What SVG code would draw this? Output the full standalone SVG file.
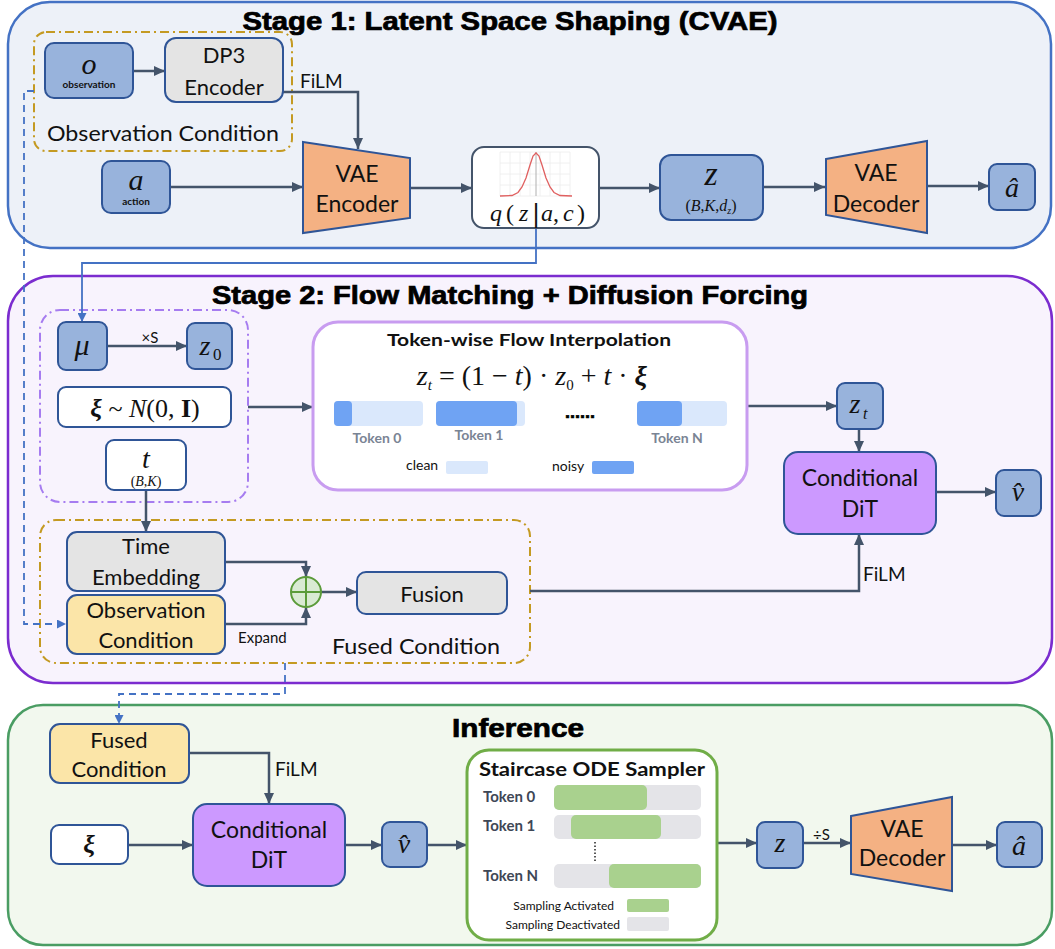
<svg xmlns="http://www.w3.org/2000/svg" width="1055" height="949" viewBox="0 0 1055 949">
<defs>
<marker id="ah" markerUnits="userSpaceOnUse" markerWidth="11" markerHeight="10" refX="11" refY="5" orient="auto"><path d="M0,0 L11,5 L0,10 z" fill="#44546a"/></marker>
<marker id="ahb" markerUnits="userSpaceOnUse" markerWidth="9" markerHeight="9" refX="9" refY="4.5" orient="auto"><path d="M0,0 L9,4.5 L0,9 z" fill="#4472c4"/></marker>
<style>
.stage{stroke-width:2.5}
.conn{fill:none;stroke:#44546a;stroke-width:2.5;marker-end:url(#ah)}
.connb{fill:none;stroke:#4472c4;stroke-width:1.8;marker-end:url(#ahb)}
.dash{stroke-dasharray:7,5}
.blue{fill:#98b3dc;stroke:#2f5597;stroke-width:2}
.gray{fill:#e4e4e4;stroke:#2f5597;stroke-width:2}
.white{fill:#ffffff;stroke:#2f5597;stroke-width:2}
.orange{fill:#f4b183;stroke:#2f5597;stroke-width:2}
.purple{fill:#cc99ff;stroke:#2f5597;stroke-width:2}
.yellow{fill:#fbe5a8;stroke:#2f5597;stroke-width:2}
.lbl{font-family:Lato,"Liberation Sans",sans-serif;fill:#111}
.ttl{font-family:"Liberation Sans",Arial,sans-serif;font-weight:bold;fill:#000;stroke:#000;stroke-width:0.7}
.math{font-family:"Liberation Serif","DejaVu Serif",serif;fill:#111}
.it{font-style:italic}
.mid{text-anchor:middle}
.tok{font-family:Lato,"Liberation Sans",sans-serif;font-weight:bold;fill:#7a8494;font-size:14px}
.tok2{font-family:Lato,"Liberation Sans",sans-serif;font-weight:bold;fill:#3e4756;font-size:15px}
</style>
</defs>

<g id="stage1">
<rect x="8" y="2" width="1043" height="246" rx="42" fill="#edf1f8" stroke="#4472c4" class="stage"/>
<text x="510" y="30" class="ttl mid" font-size="25" textLength="535" lengthAdjust="spacingAndGlyphs">Stage 1: Latent Space Shaping (CVAE)</text>
</g>
<g id="stage2">
<rect x="8" y="276" width="1044" height="407" rx="45" fill="#f8f3fd" stroke="#7b2ccf" class="stage"/>
<text x="510" y="304" class="ttl mid" font-size="25" textLength="596" lengthAdjust="spacingAndGlyphs">Stage 2: Flow Matching + Diffusion Forcing</text>
</g>
<g id="inference">
<rect x="8" y="705" width="1044" height="240" rx="35" fill="#f2f8ee" stroke="#4a9d63" class="stage"/>
<text x="518" y="737" class="ttl mid" font-size="25" textLength="132" lengthAdjust="spacingAndGlyphs">Inference</text>
</g>

<g id="obs-cond-group">
<rect x="34" y="32" width="258" height="119" rx="12" fill="none" stroke="#c49a22" stroke-width="2" stroke-dasharray="9,4,2,4"/>
<text x="47" y="141" class="lbl" font-size="22" textLength="232" lengthAdjust="spacingAndGlyphs">Observation Condition</text>
</g>
<g id="noise-group">
<rect x="40" y="310" width="208" height="192" rx="20" fill="none" stroke="#a67cf0" stroke-width="2" stroke-dasharray="9,4,2,4"/>
</g>
<g id="fused-group">
<rect x="40" y="520" width="490" height="143" rx="16" fill="none" stroke="#c49a22" stroke-width="2" stroke-dasharray="9,4,2,4"/>
<text x="332" y="654" class="lbl" font-size="22" textLength="168" lengthAdjust="spacingAndGlyphs">Fused Condition</text>
</g>

<g id="connectors">
<path class="conn" d="M133,71 H165"/>
<path class="conn" d="M283,92 H358 V149"/>
<text x="300" y="88" class="lbl" font-size="19">FiLM</text>
<path class="conn" d="M170,187 H303"/>
<path class="conn" d="M410,188 H472"/>
<path class="conn" d="M599,188 H660"/>
<path class="conn" d="M763,187 H825"/>
<path class="conn" d="M927,186 H989"/>
<path class="connb" d="M536,228 V263 H82 V322"/>
<path class="connb dash" d="M34,91 H24 V624 H66"/>
<path class="conn" d="M107,346 H187"/>
<text x="150" y="343" class="lbl mid" font-size="15">×S</text>
<path class="conn" d="M248,407 H313"/>
<path class="conn" d="M146,490 V532"/>
<path class="conn" d="M225,562 H306 V577"/>
<path class="conn" d="M225,624 H306 V607"/>
<text x="238" y="643" class="lbl" font-size="15">Expand</text>
<path class="conn" d="M321,592 H357"/>
<path class="conn" d="M530,591 H859 V534"/>
<text x="863" y="581" class="lbl" font-size="19">FiLM</text>
<path class="conn" d="M747,406 H837"/>
<path class="conn" d="M859,429 V452"/>
<path class="conn" d="M936,492 H996"/>
<path class="connb dash" d="M285,663 V694 H119 V724"/>
<path class="conn" d="M189,753 H269 V804"/>
<text x="275" y="776" class="lbl" font-size="19">FiLM</text>
<path class="conn" d="M128,845 H193"/>
<path class="conn" d="M345,845 H382"/>
<path class="conn" d="M427,845 H467"/>
<path class="conn" d="M717,843 H757"/>
<text x="813" y="840" class="lbl" font-size="15">÷S</text>
<path class="conn" d="M803,843 H851"/>
<path class="conn" d="M952,845 H997"/>
</g>

<g id="obs">
<rect x="45" y="43" width="88" height="55" rx="9" class="blue"/>
<text x="89" y="74" class="math it mid" font-size="30">o</text>
<text x="89" y="88" class="lbl mid" font-size="10" font-weight="bold">observation</text>
</g>
<g id="dp3">
<rect x="165" y="38" width="118" height="64" rx="11" class="gray"/>
<text x="224" y="63" class="lbl mid" font-size="22">DP3</text>
<text x="224" y="95" class="lbl mid" font-size="22">Encoder</text>
</g>
<g id="action">
<rect x="102" y="161" width="68" height="52" rx="9" class="blue"/>
<text x="136" y="190" class="math it mid" font-size="30">a</text>
<text x="136" y="205" class="lbl mid" font-size="10" font-weight="bold">action</text>
</g>
<g id="vae-enc">
<path d="M303,142 L410,158 L410,218 L303,233 z" class="orange"/>
<text x="357" y="182" class="lbl mid" font-size="23">VAE</text>
<text x="357" y="212" class="lbl mid" font-size="23">Encoder</text>
</g>
<g id="posterior">
<rect x="472" y="147" width="127" height="81" rx="12" fill="#fff" stroke="#44546a" stroke-width="2"/>
<g stroke="#ececec" stroke-width="0.8">
<path d="M500,152 V196 M510,152 V196 M520,152 V196 M530,152 V196 M540,152 V196 M550,152 V196 M560,152 V196 M570,152 V196"/>
<path d="M500,152 H570 M500,163 H570 M500,174 H570 M500,185 H570 M500,196 H570"/>
</g>
<path d="M536,152 V196" stroke="#b0b0b0" stroke-width="1"/>
<path d="M500,196 L512,195.5 L518,192.5 L522,187 L526,178 L530,165 L533,156 L536,153 L539,156 L542,165 L546,178 L550,187 L554,192.5 L560,195.5 L572,196" fill="none" stroke="#e06060" stroke-width="1.3"/>
<text y="221" class="math" font-size="24"><tspan x="490" class="it">q</tspan><tspan x="506">(</tspan><tspan x="519" class="it">z</tspan><tspan x="541" class="it">a</tspan><tspan x="553">,</tspan><tspan x="563" class="it">c</tspan><tspan x="577">)</tspan></text>
<text x="536" y="222" font-family="'DejaVu Sans',sans-serif" font-size="24" fill="#111" text-anchor="middle">|</text>
</g>
<g id="z-latent">
<rect x="660" y="155" width="103" height="65" rx="11" class="blue"/>
<text x="711" y="185" class="math it mid" font-size="34">z</text>
<text x="711" y="211" class="math mid" font-size="16">(<tspan class="it">B</tspan>,<tspan class="it">K</tspan>,<tspan class="it">d</tspan><tspan class="it" font-size="10" dy="3">z</tspan><tspan dy="-3">)</tspan></text>
</g>
<g id="vae-dec">
<path d="M826,159 L927,141 L927,233 L826,215 z" class="orange"/>
<text x="876" y="181" class="lbl mid" font-size="23">VAE</text>
<text x="876" y="212" class="lbl mid" font-size="23">Decoder</text>
</g>
<g id="a-hat">
<rect x="989" y="164" width="46" height="46" rx="8" class="blue"/>
<text x="1012" y="197" class="math it mid" font-size="28">â</text>
</g>

<g id="mu">
<rect x="58" y="322" width="49" height="48" rx="8" class="blue"/>
<text x="82" y="355" class="math it mid" font-size="30">μ</text>
</g>
<g id="z0">
<rect x="187" y="323" width="45" height="46" rx="8" class="blue"/>
<text x="205" y="355" class="math it mid" font-size="28">z</text>
<text x="213" y="360" class="math" font-size="17">0</text>
</g>
<g id="xi-noise">
<rect x="58" y="387" width="173" height="40" rx="8" class="white"/>
<text x="145" y="417" class="math mid" font-size="26"><tspan font-weight="bold" font-style="italic">ξ</tspan> ~ <tspan font-style="italic">N</tspan>(0, <tspan font-weight="bold">I</tspan>)</text>
</g>
<g id="t-step">
<rect x="106" y="440" width="80" height="50" rx="8" class="white"/>
<text x="146" y="468" class="math it mid" font-size="28">t</text>
<text x="146" y="486" class="math mid" font-size="14">(<tspan class="it">B</tspan>,<tspan class="it">K</tspan>)</text>
</g>
<g id="token-interp">
<rect x="313" y="322" width="434" height="168" rx="25" fill="#fff" stroke="#c89cf0" stroke-width="3"/>
<text x="529" y="346" class="lbl mid" font-size="17" font-weight="bold" textLength="284" lengthAdjust="spacingAndGlyphs">Token-wise Flow Interpolation</text>
<text x="532" y="385" class="math mid" font-size="28"><tspan class="it">z</tspan><tspan class="it" font-size="15" dy="5">t</tspan><tspan dy="-5"> = (1 − </tspan><tspan class="it">t</tspan>) · <tspan class="it">z</tspan><tspan font-size="15" dy="5">0</tspan><tspan dy="-5"> + </tspan><tspan class="it">t</tspan> · <tspan font-weight="bold" font-style="italic">ξ</tspan></text>
<rect x="334" y="401" width="89" height="25" rx="4" fill="#dae8fc"/>
<rect x="334" y="401" width="18" height="25" rx="4" fill="#6fa3f3"/>
<rect x="436" y="401" width="89" height="25" rx="4" fill="#dae8fc"/>
<rect x="436" y="401" width="81" height="25" rx="4" fill="#6fa3f3"/>
<rect x="637" y="401" width="90" height="25" rx="4" fill="#dae8fc"/>
<rect x="637" y="401" width="45" height="25" rx="4" fill="#6fa3f3"/>
<text x="580" y="418" class="ttl mid" font-size="18" stroke-width="0">......</text>
<text x="377" y="443" class="tok mid">Token 0</text>
<text x="479" y="440" class="tok mid">Token 1</text>
<text x="677" y="443" class="tok mid">Token N</text>
<text x="406" y="470" class="lbl" font-size="14">clean</text>
<rect x="446" y="461" width="42" height="13" rx="2" fill="#dae8fc"/>
<text x="552" y="471" class="lbl" font-size="14">noisy</text>
<rect x="592" y="461" width="42" height="13" rx="2" fill="#6fa3f3"/>
</g>
<g id="zt">
<rect x="837" y="383" width="46" height="46" rx="8" class="blue"/>
<text x="855" y="413" class="math it mid" font-size="28">z</text>
<text x="863" y="419" class="math it" font-size="16">t</text>
</g>
<g id="dit-train">
<rect x="784" y="452" width="152" height="82" rx="14" class="purple"/>
<text x="860" y="486" class="lbl mid" font-size="23">Conditional</text>
<text x="860" y="517" class="lbl mid" font-size="23">DiT</text>
</g>
<g id="v-hat-train">
<rect x="996" y="470" width="45" height="46" rx="8" class="blue"/>
<text x="1018" y="501" class="math it mid" font-size="28">v̂</text>
</g>
<g id="time-emb">
<rect x="67" y="532" width="158" height="59" rx="10" class="gray"/>
<text x="146" y="554" class="lbl mid" font-size="22">Time</text>
<text x="146" y="585" class="lbl mid" font-size="22">Embedding</text>
</g>
<g id="obs-cond">
<rect x="67" y="595" width="158" height="59" rx="10" class="yellow"/>
<text x="146" y="618" class="lbl mid" font-size="22">Observation</text>
<text x="146" y="648" class="lbl mid" font-size="22">Condition</text>
</g>
<g id="add">
<circle cx="306" cy="592" r="15" fill="#d9ead3" stroke="#5b9b3a" stroke-width="2"/>
<path d="M291,592 H321 M306,577 V607" stroke="#5b9b3a" stroke-width="2"/>
</g>
<g id="fusion">
<rect x="357" y="572" width="150" height="42" rx="9" class="gray"/>
<text x="432" y="602" class="lbl mid" font-size="22">Fusion</text>
</g>

<g id="fused-inf">
<rect x="50" y="724" width="139" height="59" rx="10" class="yellow"/>
<text x="119" y="748" class="lbl mid" font-size="22">Fused</text>
<text x="119" y="777" class="lbl mid" font-size="22">Condition</text>
</g>
<g id="xi-inf">
<rect x="51" y="825" width="77" height="39" rx="8" class="white" fill="#fafafa"/>
<text x="89" y="853" class="math mid" font-size="26" font-weight="bold" font-style="italic">ξ</text>
</g>
<g id="dit-inf">
<rect x="193" y="804" width="152" height="82" rx="14" class="purple"/>
<text x="269" y="838" class="lbl mid" font-size="23">Conditional</text>
<text x="269" y="868" class="lbl mid" font-size="23">DiT</text>
</g>
<g id="v-hat-inf">
<rect x="382" y="822" width="45" height="45" rx="8" class="blue"/>
<text x="404" y="853" class="math it mid" font-size="28">v̂</text>
</g>
<g id="staircase">
<rect x="467" y="750" width="250" height="190" rx="22" fill="#fff" stroke="#70ad47" stroke-width="3"/>
<text x="592" y="776" class="lbl mid" font-size="19" font-weight="bold" fill="#000" textLength="226" lengthAdjust="spacingAndGlyphs">Staircase ODE Sampler</text>
<text x="483" y="802" class="tok2">Token 0</text>
<rect x="554" y="785" width="147" height="25" rx="5" fill="#e4e4e8"/>
<rect x="554" y="785" width="93" height="25" rx="5" fill="#a9d18e"/>
<text x="483" y="831" class="tok2">Token 1</text>
<rect x="554" y="815" width="147" height="24" rx="5" fill="#e4e4e8"/>
<rect x="571" y="815" width="90" height="24" rx="5" fill="#a9d18e"/>
<path d="M595,842 V862" stroke="#222" stroke-width="1.5" stroke-dasharray="1.5,2"/>
<text x="483" y="881" class="tok2">Token N</text>
<rect x="554" y="864" width="147" height="24" rx="5" fill="#e4e4e8"/>
<rect x="609" y="864" width="92" height="24" rx="5" fill="#a9d18e"/>
<text x="614" y="910" class="lbl" font-size="12" text-anchor="end">Sampling Activated</text>
<rect x="627" y="899" width="42" height="13" rx="2" fill="#a9d18e"/>
<text x="620" y="929" class="lbl" font-size="12" text-anchor="end">Sampling Deactivated</text>
<rect x="627" y="917" width="42" height="14" rx="2" fill="#e4e4e8"/>
</g>
<g id="z-inf">
<rect x="757" y="822" width="46" height="46" rx="8" class="blue"/>
<text x="780" y="852" class="math it mid" font-size="28">z</text>
</g>
<g id="vae-dec-inf">
<path d="M851,816 L952,797 L952,891 L851,874 z" class="orange"/>
<text x="902" y="837" class="lbl mid" font-size="23">VAE</text>
<text x="902" y="866" class="lbl mid" font-size="23">Decoder</text>
</g>
<g id="a-hat-inf">
<rect x="997" y="822" width="45" height="45" rx="8" class="blue"/>
<text x="1019" y="855" class="math it mid" font-size="28">â</text>
</g>
</svg>
